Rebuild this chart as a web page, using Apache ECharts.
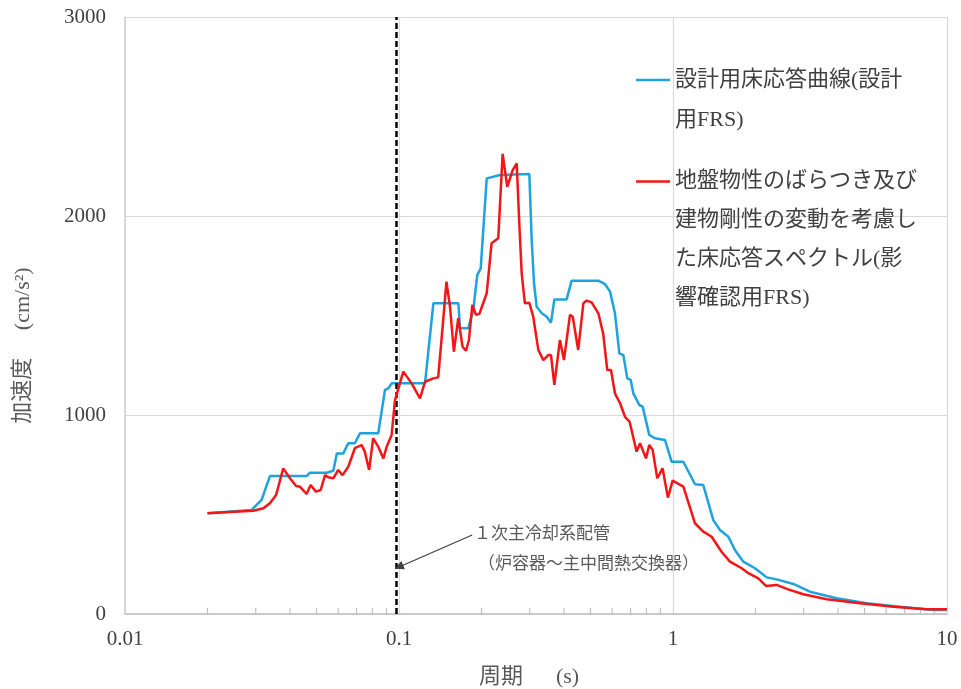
<!DOCTYPE html>
<html><head><meta charset="utf-8">
<script src="https://cdn.jsdelivr.net/npm/echarts@6/dist/echarts.min.js"></script>
<style>html,body{margin:0;padding:0;background:#fff}#c{width:961px;height:689px}</style>
</head><body><div id="c"></div><script>
// ---- data ----
const bluePeriods = [0.020,0.029,0.0315,0.0338,0.046,0.0473,0.0545,0.0552,0.0576,0.0593,0.0626,0.0653,0.069,0.072,0.084,0.0889,0.0914,0.094,0.1244,0.1335,0.1647,0.167,0.179,0.1867,0.193,0.1987,0.209,0.2337,0.299,0.305,0.311,0.318,0.332,0.346,0.3587,0.3689,0.409,0.4267,0.534,0.5646,0.589,0.614,0.637,0.659,0.681,0.701,0.7163,0.754,0.775,0.819,0.859,0.935,0.989,1.091,1.203,1.29,1.403,1.484,1.592,1.683,1.806,1.991,2.198,2.389,2.749,3.16,3.956,5.09,6.73,8.91,10];
const blueValues  = [506,523,573,693,693,710,710,720,720,807,807,858,858,908,908,1126,1134,1159,1159,1561,1561,1436,1436,1528,1703,1737,2189,2206,2211,1879,1662,1544,1511,1494,1464,1581,1581,1675,1675,1658,1620,1511,1310,1301,1184,1176,1109,1050,1042,900,883,874,765,765,652,648,472,422,388,322,263,230,184,174,151,112,79,54,37,20,20];
const redPeriods = [0.020,0.0294,0.032,0.0338,0.0356,0.0378,0.040,0.0421,0.0435,0.046,0.0476,0.0497,0.0518,0.0537,0.0552,0.0576,0.060,0.0622,0.0653,0.069,0.0731,0.075,0.0778,0.0805,0.084,0.0877,0.0902,0.094,0.0967,0.1037,0.1112,0.1193,0.1244,0.1335,0.139,0.1443,0.149,0.1535,0.1586,0.1645,0.1706,0.1756,0.180,0.1852,0.191,0.1965,0.209,0.2177,0.2303,0.2389,0.2484,0.260,0.2689,0.2748,0.2804,0.288,0.299,0.309,0.3225,0.3363,0.3507,0.3587,0.3689,0.3866,0.400,0.4207,0.4306,0.4509,0.4708,0.484,0.5047,0.534,0.556,0.5757,0.594,0.614,0.641,0.668,0.6945,0.7365,0.758,0.797,0.819,0.843,0.876,0.916,0.958,0.997,1.091,1.203,1.29,1.384,1.504,1.614,1.781,1.884,2.048,2.185,2.389,2.633,2.99,3.64,4.81,6.37,8.43,10];
const redValues  = [506,519,531,556,598,732,682,643,640,603,648,615,623,698,687,682,724,698,740,833,849,816,724,883,841,782,841,900,1075,1218,1159,1084,1167,1184,1189,1444,1670,1544,1318,1486,1343,1323,1377,1553,1503,1508,1612,1863,1888,2312,2147,2231,2265,1963,1712,1561,1564,1494,1327,1276,1301,1301,1151,1377,1276,1503,1494,1327,1561,1575,1566,1511,1410,1226,1226,1109,1059,991,966,816,858,782,849,824,682,732,585,670,640,456,414,388,313,263,230,205,179,141,146,124,99,74,54,37,24,24];

const xTickLabels = ['0.01','0.1','1','10'];
const yTickLabels = ['0','1000','2000','3000'];
const minorTickPeriods = [0.02,0.03,0.04,0.05,0.06,0.07,0.08,0.09,0.2,0.3,0.4,0.5,0.6,0.7,0.8,0.9,2,3,4,5,6,7,8,9];

const blueName = '設計用床応答曲線(設計用FRS)';
const redName = '地盤物性のばらつき及び建物剛性の変動を考慮した床応答スペクトル(影響確認用FRS)';
const blueLegendLines = ['設計用床応答曲線(設計','用FRS)'];
const redLegendLines = ['地盤物性のばらつき及び','建物剛性の変動を考慮し','た床応答スペクトル(影','響確認用FRS)'];

const xAxisName = '周期　  (s)';
const yAxisName = '加速度　 (cm/s²)';
const markerPeriod = 0.098;
const annotationLines = ['１次主冷却系配管','（炉容器～主中間熱交換器）'];
const arrowFrom = [0.185, 397];
const arrowTo = [0.1, 236];

// ---- chart ----
const BLUE = '#1ea3de', RED = '#f41616';
const LATIN = 'Liberation Serif, Noto Sans CJK JP';
const pair = (xs, ys) => xs.map((x, i) => [x, ys[i]]);
// Legend text: blank lines above so that the icon sits beside the first line
const padLines = lines => Array(lines.length - 1).fill('').concat(lines).join('\n');

const chart = echarts.init(document.getElementById('c'));
chart.setOption({
  backgroundColor: '#fff',
  animation: false,
  grid: { left: 125, right: 14, top: 17, bottom: 75, outerBoundsMode: 'none', containLabel: false },
  xAxis: {
    type: 'log', logBase: 10, min: 0.01, max: 10,
    name: xAxisName, nameLocation: 'middle', nameGap: 52,
    nameTextStyle: { fontSize: 22, color: '#595959', fontFamily: LATIN, padding: [0, 14, 0, 0] },
    axisLine: { show: true, lineStyle: { color: '#bfbfbf', width: 1.5 } },
    axisTick: { show: false },
    axisLabel: {
      fontSize: 21, color: '#404040', fontFamily: 'Liberation Serif', margin: 15,
      formatter: v => {
        const i = Math.round(Math.log10(v)) + 2;
        return xTickLabels[i] !== undefined ? xTickLabels[i] : '';
      }
    },
    splitLine: { show: true, lineStyle: { color: '#d9d9d9', width: 1.2 } }
  },
  yAxis: {
    type: 'value', min: 0, max: 3000, interval: 1000,
    name: yAxisName, nameLocation: 'middle', nameGap: 91,
    nameTextStyle: { fontSize: 22, color: '#595959', fontFamily: LATIN, padding: [0, 60, 0, 0] },
    axisLine: { show: true, lineStyle: { color: '#d0d0d0', width: 1.5 } },
    axisTick: { show: false },
    axisLabel: {
      fontSize: 21, color: '#404040', fontFamily: 'Liberation Serif', margin: 19,
      formatter: v => yTickLabels[Math.round(v / 1000)]
    },
    splitLine: { show: true, lineStyle: { color: '#d9d9d9', width: 1.2 } }
  },
  legend: [
    {
      data: [blueName], orient: 'vertical', left: 636, top: 20, padding: 0,
      icon: 'rect', itemWidth: 34, itemHeight: 2.5,
      formatter: () => padLines(blueLegendLines),
      textStyle: { fontSize: 22, lineHeight: 40, color: '#404040', fontFamily: LATIN }
    },
    {
      data: [redName], orient: 'vertical', left: 636, top: 45, padding: 0,
      icon: 'rect', itemWidth: 34, itemHeight: 2.5,
      formatter: () => padLines(redLegendLines),
      textStyle: { fontSize: 22, lineHeight: 39, color: '#404040', fontFamily: LATIN }
    }
  ],
  series: [
    {
      type: 'custom', name: 'minorTicks', silent: true, z: 3,
      data: minorTickPeriods.map(p => [p, 0]),
      renderItem: (params, api) => {
        const p = api.coord([api.value(0), 0]);
        return { type: 'line', shape: { x1: p[0], y1: p[1], x2: p[0], y2: p[1] - 6 },
                 style: { stroke: '#bfbfbf', lineWidth: 1.2 } };
      }
    },
    {
      type: 'line', name: blueName, data: pair(bluePeriods, blueValues),
      symbol: 'none', lineStyle: { color: BLUE, width: 2.5 }, itemStyle: { color: BLUE }, z: 4
    },
    {
      type: 'line', name: redName, data: pair(redPeriods, redValues),
      symbol: 'none', lineStyle: { color: RED, width: 2.5 }, itemStyle: { color: RED }, z: 5,
      markLine: {
        silent: true, animation: false,
        label: { show: false },
        data: [
          [
            { coord: [markerPeriod, 0], symbol: 'none',
              lineStyle: { color: '#000', type: [6, 3], width: 2.5 } },
            { coord: [markerPeriod, 3000], symbol: 'none' }
          ],
          [
            { coord: arrowFrom, symbol: 'none',
              lineStyle: { color: '#404040', type: 'solid', width: 1.2 } },
            { coord: arrowTo, symbol: 'triangle', symbolSize: 9 }
          ]
        ]
      }
    }
  ],
  graphic: [
    { type: 'text', left: 474, top: 524, silent: true,
      style: { text: annotationLines[0], fontSize: 17, fill: '#595959', fontFamily: 'Noto Sans CJK JP' } },
    { type: 'text', left: 478, top: 554, silent: true,
      style: { text: annotationLines[1], fontSize: 17, fill: '#595959', fontFamily: 'Noto Sans CJK JP' } }
  ]
});
</script></body></html>
